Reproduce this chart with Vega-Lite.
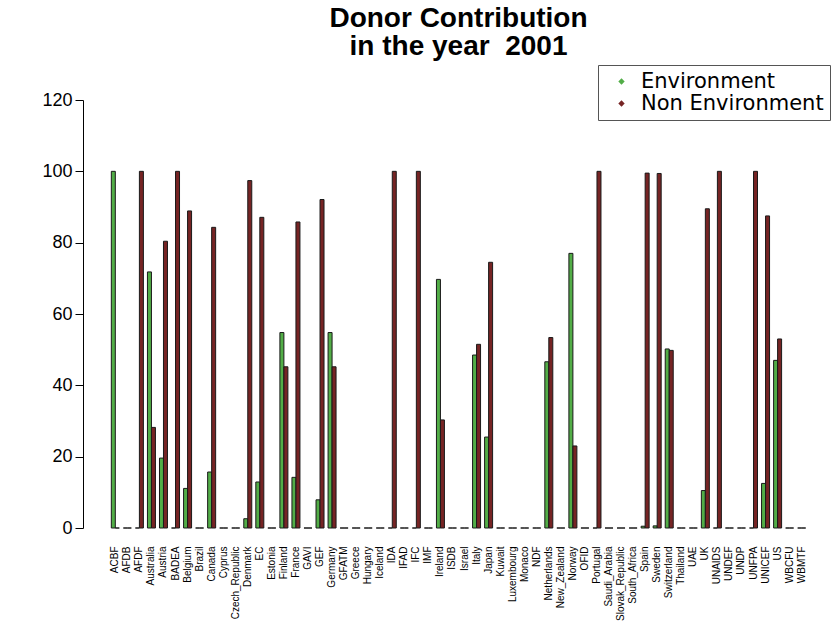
{
  "$schema": "https://vega.github.io/schema/vega-lite/v6.json",
  "autosize": {"type": "none"},
  "padding": {"left": 105.3, "top": 100, "right": 25.3, "bottom": 94},
  "width": 706.4,
  "height": 428,
  "background": "white",
  "config": {"font": "Liberation Sans", "view": {"stroke": null}},
  "title": {
    "text": ["Donor Contribution", "in the year \u00a02001"],
    "fontSize": 28,
    "fontWeight": "bold",
    "font": "Liberation Sans",
    "lineHeight": 28,
    "anchor": "middle",
    "color": "black",
    "offset": 4
  },
  "data": {
    "values": [
      {"donor": "ACBF", "type": "Environment", "value": 100}, {"donor": "ACBF", "type": "Non Environment", "value": 0},
      {"donor": "AFDB", "type": "Environment", "value": 0}, {"donor": "AFDB", "type": "Non Environment", "value": 0},
      {"donor": "AFDF", "type": "Environment", "value": 0}, {"donor": "AFDF", "type": "Non Environment", "value": 100},
      {"donor": "Australia", "type": "Environment", "value": 71.8}, {"donor": "Australia", "type": "Non Environment", "value": 28.2},
      {"donor": "Austria", "type": "Environment", "value": 19.6}, {"donor": "Austria", "type": "Non Environment", "value": 80.4},
      {"donor": "BADEA", "type": "Environment", "value": 0}, {"donor": "BADEA", "type": "Non Environment", "value": 100},
      {"donor": "Belgium", "type": "Environment", "value": 11.1}, {"donor": "Belgium", "type": "Non Environment", "value": 88.9},
      {"donor": "Brazil", "type": "Environment", "value": 0}, {"donor": "Brazil", "type": "Non Environment", "value": 0},
      {"donor": "Canada", "type": "Environment", "value": 15.7}, {"donor": "Canada", "type": "Non Environment", "value": 84.3},
      {"donor": "Cyprus", "type": "Environment", "value": 0}, {"donor": "Cyprus", "type": "Non Environment", "value": 0},
      {"donor": "Czech_Republic", "type": "Environment", "value": 0}, {"donor": "Czech_Republic", "type": "Non Environment", "value": 0},
      {"donor": "Denmark", "type": "Environment", "value": 2.6}, {"donor": "Denmark", "type": "Non Environment", "value": 97.4},
      {"donor": "EC", "type": "Environment", "value": 12.9}, {"donor": "EC", "type": "Non Environment", "value": 87.1},
      {"donor": "Estonia", "type": "Environment", "value": 0}, {"donor": "Estonia", "type": "Non Environment", "value": 0},
      {"donor": "Finland", "type": "Environment", "value": 54.8}, {"donor": "Finland", "type": "Non Environment", "value": 45.2},
      {"donor": "France", "type": "Environment", "value": 14.2}, {"donor": "France", "type": "Non Environment", "value": 85.8},
      {"donor": "GAVI", "type": "Environment", "value": 0}, {"donor": "GAVI", "type": "Non Environment", "value": 0},
      {"donor": "GEF", "type": "Environment", "value": 7.9}, {"donor": "GEF", "type": "Non Environment", "value": 92.1},
      {"donor": "Germany", "type": "Environment", "value": 54.8}, {"donor": "Germany", "type": "Non Environment", "value": 45.2},
      {"donor": "GFATM", "type": "Environment", "value": 0}, {"donor": "GFATM", "type": "Non Environment", "value": 0},
      {"donor": "Greece", "type": "Environment", "value": 0}, {"donor": "Greece", "type": "Non Environment", "value": 0},
      {"donor": "Hungary", "type": "Environment", "value": 0}, {"donor": "Hungary", "type": "Non Environment", "value": 0},
      {"donor": "Iceland", "type": "Environment", "value": 0}, {"donor": "Iceland", "type": "Non Environment", "value": 0},
      {"donor": "IDA", "type": "Environment", "value": 0}, {"donor": "IDA", "type": "Non Environment", "value": 100},
      {"donor": "IFAD", "type": "Environment", "value": 0}, {"donor": "IFAD", "type": "Non Environment", "value": 0},
      {"donor": "IFC", "type": "Environment", "value": 0}, {"donor": "IFC", "type": "Non Environment", "value": 100},
      {"donor": "IMF", "type": "Environment", "value": 0}, {"donor": "IMF", "type": "Non Environment", "value": 0},
      {"donor": "Ireland", "type": "Environment", "value": 69.7}, {"donor": "Ireland", "type": "Non Environment", "value": 30.3},
      {"donor": "ISDB", "type": "Environment", "value": 0}, {"donor": "ISDB", "type": "Non Environment", "value": 0},
      {"donor": "Israel", "type": "Environment", "value": 0}, {"donor": "Israel", "type": "Non Environment", "value": 0},
      {"donor": "Italy", "type": "Environment", "value": 48.5}, {"donor": "Italy", "type": "Non Environment", "value": 51.5},
      {"donor": "Japan", "type": "Environment", "value": 25.5}, {"donor": "Japan", "type": "Non Environment", "value": 74.5},
      {"donor": "Kuwait", "type": "Environment", "value": 0}, {"donor": "Kuwait", "type": "Non Environment", "value": 0},
      {"donor": "Luxembourg", "type": "Environment", "value": 0}, {"donor": "Luxembourg", "type": "Non Environment", "value": 0},
      {"donor": "Monaco", "type": "Environment", "value": 0}, {"donor": "Monaco", "type": "Non Environment", "value": 0},
      {"donor": "NDF", "type": "Environment", "value": 0}, {"donor": "NDF", "type": "Non Environment", "value": 0},
      {"donor": "Netherlands", "type": "Environment", "value": 46.6}, {"donor": "Netherlands", "type": "Non Environment", "value": 53.4},
      {"donor": "New_Zealand", "type": "Environment", "value": 0}, {"donor": "New_Zealand", "type": "Non Environment", "value": 0},
      {"donor": "Norway", "type": "Environment", "value": 77}, {"donor": "Norway", "type": "Non Environment", "value": 23},
      {"donor": "OFID", "type": "Environment", "value": 0}, {"donor": "OFID", "type": "Non Environment", "value": 0},
      {"donor": "Portugal", "type": "Environment", "value": 0}, {"donor": "Portugal", "type": "Non Environment", "value": 100},
      {"donor": "Saudi_Arabia", "type": "Environment", "value": 0}, {"donor": "Saudi_Arabia", "type": "Non Environment", "value": 0},
      {"donor": "Slovak_Republic", "type": "Environment", "value": 0}, {"donor": "Slovak_Republic", "type": "Non Environment", "value": 0},
      {"donor": "South_Africa", "type": "Environment", "value": 0}, {"donor": "South_Africa", "type": "Non Environment", "value": 0},
      {"donor": "Spain", "type": "Environment", "value": 0.5}, {"donor": "Spain", "type": "Non Environment", "value": 99.5},
      {"donor": "Sweden", "type": "Environment", "value": 0.6}, {"donor": "Sweden", "type": "Non Environment", "value": 99.4},
      {"donor": "Switzerland", "type": "Environment", "value": 50.2}, {"donor": "Switzerland", "type": "Non Environment", "value": 49.8},
      {"donor": "Thailand", "type": "Environment", "value": 0}, {"donor": "Thailand", "type": "Non Environment", "value": 0},
      {"donor": "UAE", "type": "Environment", "value": 0}, {"donor": "UAE", "type": "Non Environment", "value": 0},
      {"donor": "UK", "type": "Environment", "value": 10.5}, {"donor": "UK", "type": "Non Environment", "value": 89.5},
      {"donor": "UNAIDS", "type": "Environment", "value": 0}, {"donor": "UNAIDS", "type": "Non Environment", "value": 100},
      {"donor": "UNDEF", "type": "Environment", "value": 0}, {"donor": "UNDEF", "type": "Non Environment", "value": 0},
      {"donor": "UNDP", "type": "Environment", "value": 0}, {"donor": "UNDP", "type": "Non Environment", "value": 0},
      {"donor": "UNFPA", "type": "Environment", "value": 0}, {"donor": "UNFPA", "type": "Non Environment", "value": 100},
      {"donor": "UNICEF", "type": "Environment", "value": 12.5}, {"donor": "UNICEF", "type": "Non Environment", "value": 87.5},
      {"donor": "US", "type": "Environment", "value": 47}, {"donor": "US", "type": "Non Environment", "value": 53},
      {"donor": "WBCFU", "type": "Environment", "value": 0}, {"donor": "WBCFU", "type": "Non Environment", "value": 0},
      {"donor": "WBMTF", "type": "Environment", "value": 0}, {"donor": "WBMTF", "type": "Non Environment", "value": 0}
    ]
  },
  "mark": {"type": "bar", "stroke": "#1a1a1a", "strokeWidth": 1},
  "encoding": {
    "x": {
      "field": "donor",
      "type": "nominal",
      "sort": null,
      "scale": {"paddingInner": 0.336, "paddingOuter": 0.5},
      "axis": {
        "title": null,
        "domain": false,
        "ticks": false,
        "labelAngle": -90,
        "labelFontSize": 10,
        "labelPadding": 18,
        "labelColor": "black",
        "labelFont": "Liberation Sans",
        "labelLimit": 200
      }
    },
    "xOffset": {"field": "type", "type": "nominal"},
    "y": {
      "field": "value",
      "type": "quantitative",
      "scale": {"domain": [0, 120], "nice": false, "zero": true},
      "axis": {
        "title": null,
        "offset": 22.3,
        "values": [0, 20, 40, 60, 80, 100, 120],
        "grid": false,
        "domainColor": "black",
        "tickColor": "black",
        "tickSize": 8,
        "labelFontSize": 18,
        "labelPadding": 3,
        "labelColor": "black",
        "labelFont": "Liberation Sans"
      }
    },
    "color": {
      "field": "type",
      "type": "nominal",
      "scale": {"domain": ["Environment", "Non Environment"], "range": ["#52ad47", "#762424"]},
      "legend": {
        "title": null,
        "orient": "none",
        "legendX": 492.7,
        "legendY": -35,
        "padding": 6,
        "strokeColor": "#555",
        "fillColor": "white",
        "symbolType": "diamond",
        "symbolSize": 40,
        "symbolStrokeWidth": 0,
        "symbolOffset": 7,
        "labelOffset": 9,
        "labelFontSize": 21,
        "labelLimit": 400,
        "labelFont": "DejaVu Sans",
        "labelColor": "black",
        "rowPadding": 0
      }
    }
  }
}
